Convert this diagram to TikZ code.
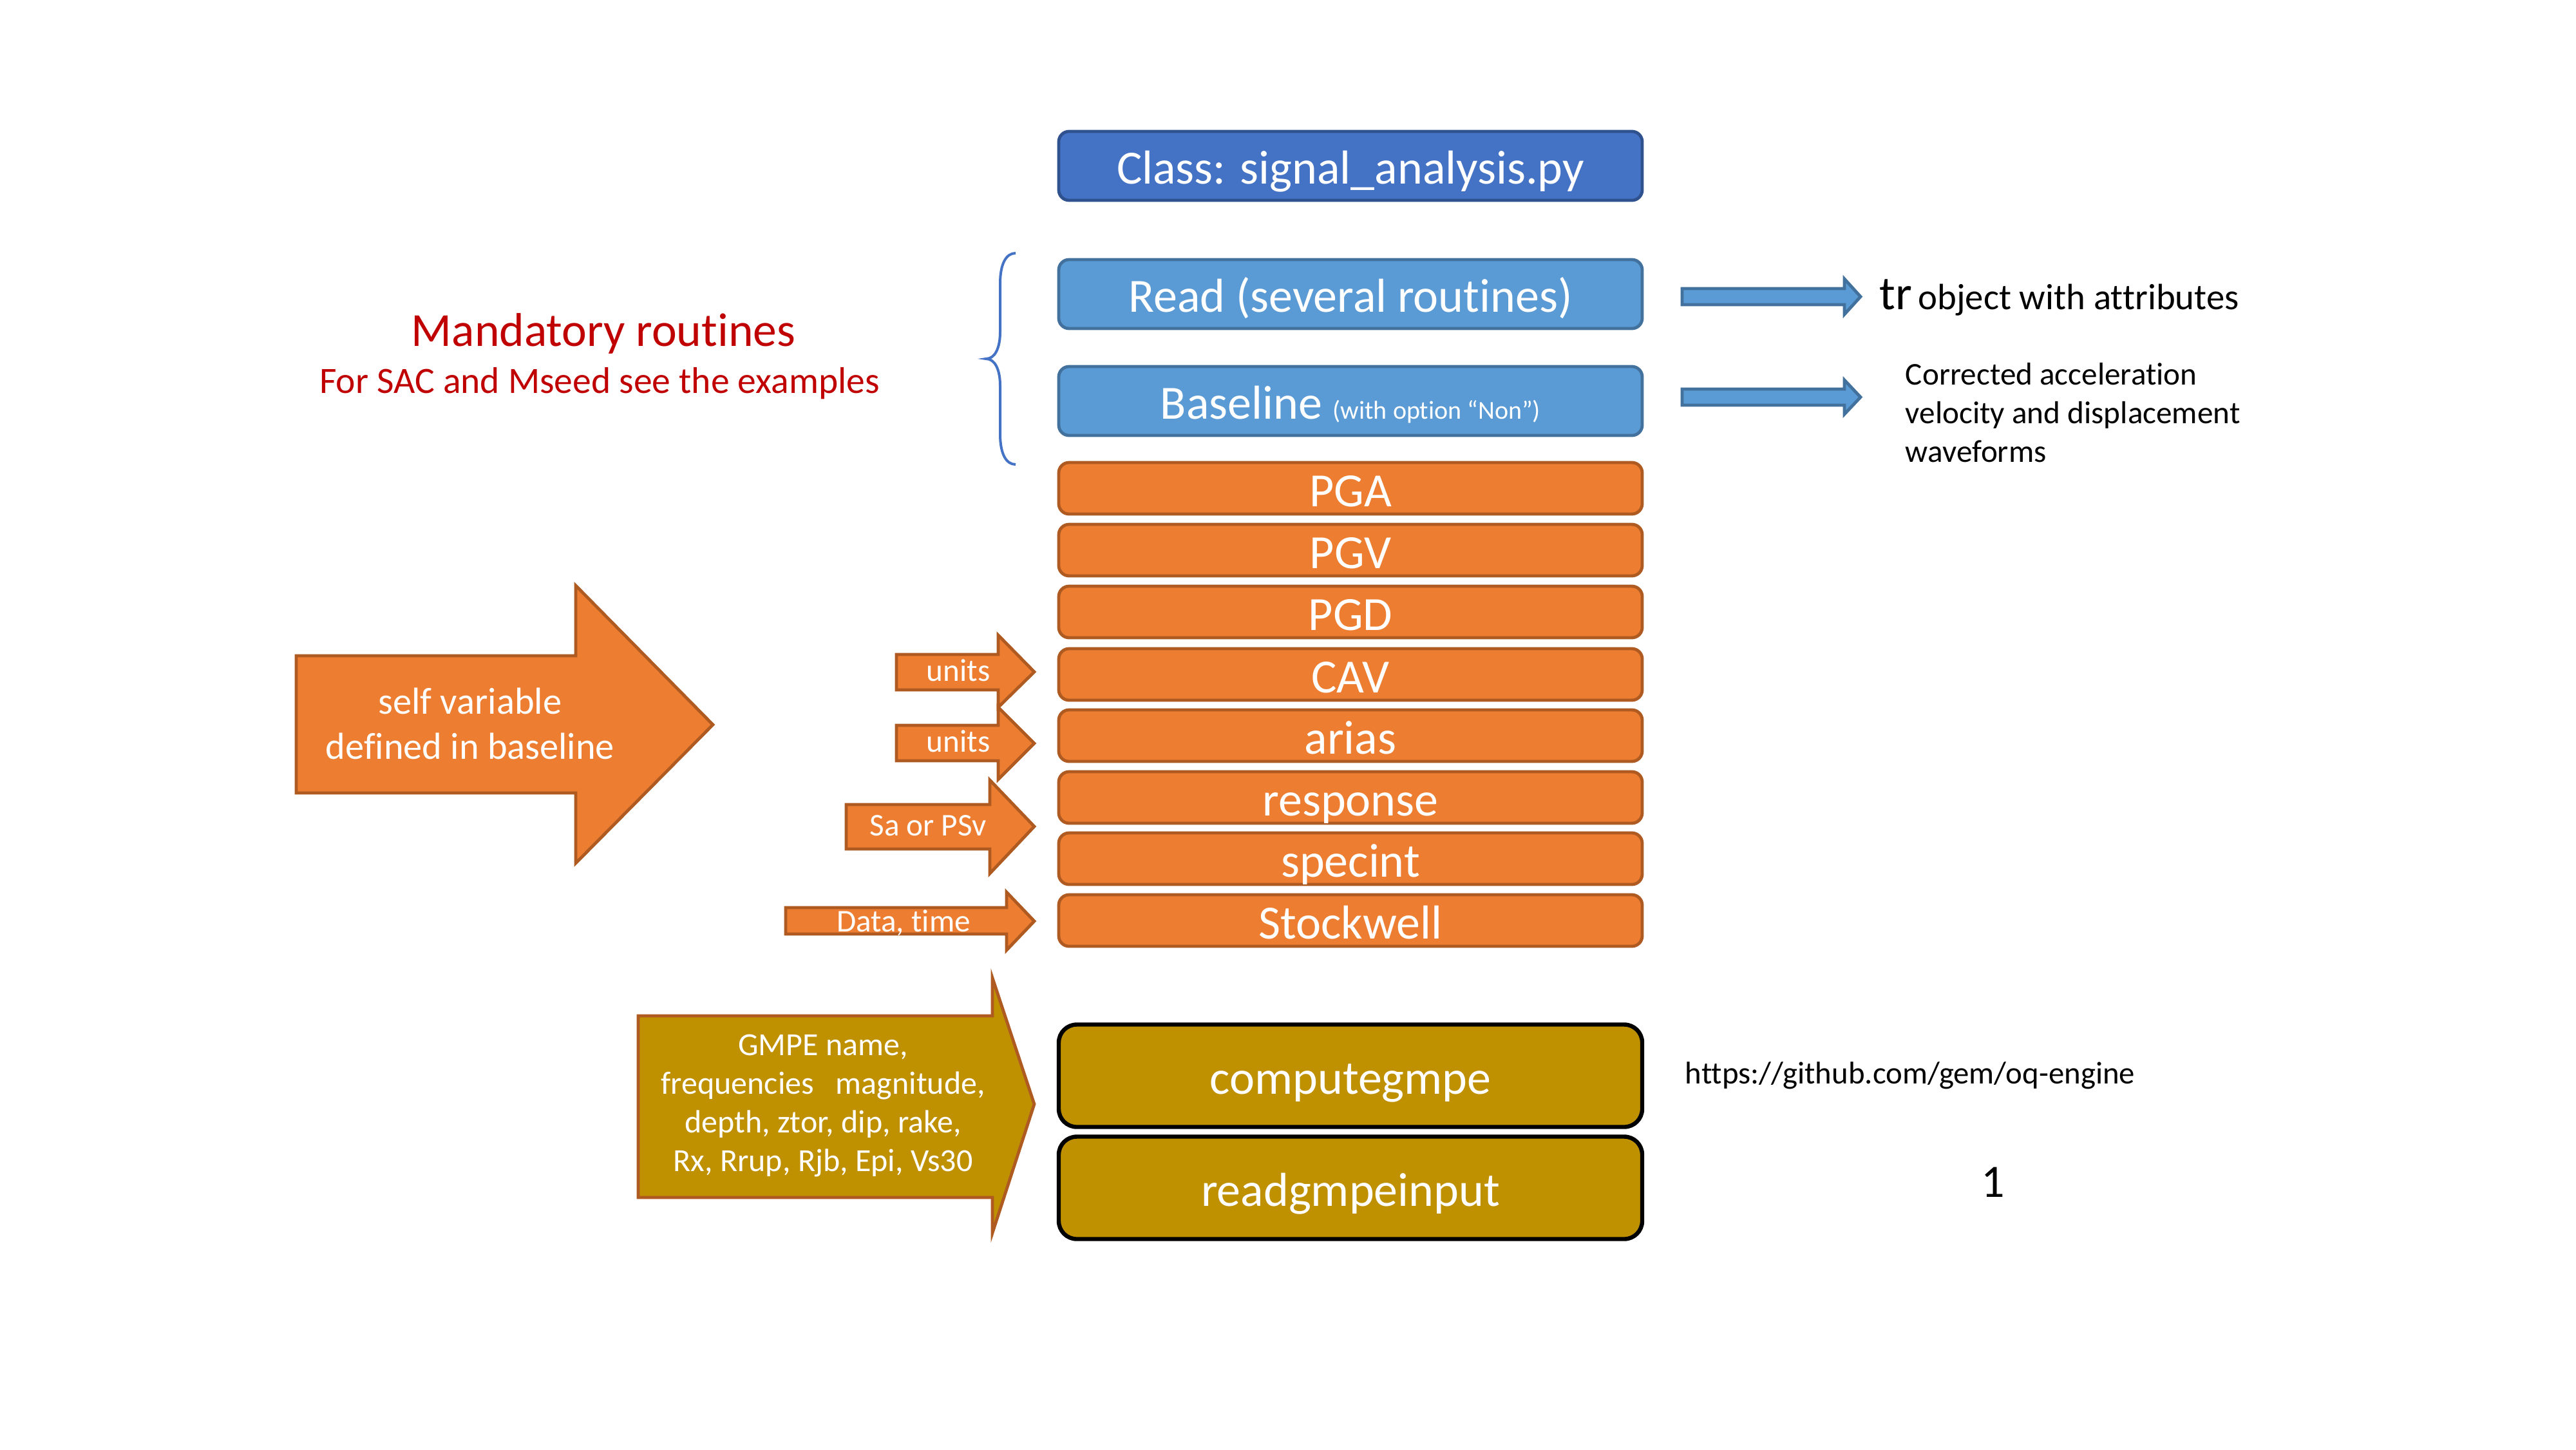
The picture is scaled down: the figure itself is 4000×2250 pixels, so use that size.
\documentclass[tikz,border=0pt]{standalone}
\usepackage{fontspec}
\setmainfont{Carlito}[Ligatures=NoCommon]
\definecolor{titlefill}{HTML}{4472C4}
\definecolor{titledraw}{HTML}{2F528F}
\definecolor{lbfill}{HTML}{5B9BD5}
\definecolor{lbdraw}{HTML}{41719C}
\definecolor{orfill}{HTML}{ED7D31}
\definecolor{ordraw}{HTML}{AE5A21}
\definecolor{goldfill}{HTML}{BF9000}
\definecolor{darkred}{HTML}{C00000}
\begin{document}
\begin{tikzpicture}[x=0.25pt,y=-0.25pt,
  box/.style={draw, rounded corners=4pt, line width=1.2pt, minimum width=226.5pt,
    inner sep=0pt, text=white, font=\fontsize{18.5}{22}\selectfont,
    text height=16.8pt, text depth=2.8pt},
  titlebox/.style={box, fill=titlefill, draw=titledraw, minimum height=26.75pt},
  lbbox/.style={box, fill=lbfill, draw=lbdraw, minimum height=26.75pt},
  orbox/.style={box, fill=orfill, draw=ordraw, minimum height=20pt},
  goldbox/.style={box, fill=goldfill, draw=black, line width=1.6pt, rounded corners=7pt, minimum height=39.75pt},
  orarrow/.style={fill=orfill, draw=ordraw, line width=1.2pt, line join=miter},
  goldarrow/.style={fill=goldfill, draw=ordraw, line width=1.2pt, line join=miter},
  bluearrow/.style={fill=lbfill, draw=lbdraw, line width=1.2pt, line join=miter},
  arrowtext/.style={inner sep=0pt, text=white, anchor=base, font=\fontsize{12.3}{15}\selectfont},
  plain/.style={inner sep=0pt, text=black}
]
\useasboundingbox (0,0) rectangle (4000,2250);

% main column
\node[titlebox] (title) at (2097,257.5) {Class: signal\_analysis.py};
\node[lbbox] (read) at (2097,456.5) {Read (several routines)};
\node[lbbox] (baseline) at (2097,622.5) {Baseline {\fontsize{10}{12}\selectfont (with option “Non”)}};
\node[orbox] (pga) at (2097,758) {PGA};
\node[orbox] (pgv) at (2097,854) {PGV};
\node[orbox] (pgd) at (2097,950) {PGD};
\node[orbox] (cav) at (2097,1047) {CAV};
\node[orbox] (arias) at (2097,1142) {arias};
\node[orbox] (response) at (2097,1238) {response};
\node[orbox] (specint) at (2097,1333) {specint};
\node[orbox] (stockwell) at (2097,1429) {Stockwell};
\node[goldbox] (computegmpe) at (2097,1670) {computegmpe};
\node[goldbox] (readgmpe) at (2097,1844) {readgmpeinput};

% brace
\draw[titlefill, line width=1pt] (1577,393) .. controls (1562,393) and (1553,410) .. (1553,440)
  -- (1553,515) .. controls (1553,540) and (1545,557) .. (1531,557)
  .. controls (1545,557) and (1553,574) .. (1553,599)
  -- (1553,674) .. controls (1553,704) and (1562,721) .. (1577,721);

% mandatory text
\node[inner sep=0pt, text=darkred, anchor=base, font=\fontsize{18.4}{22}\selectfont] (mand) at (937,537) {Mandatory routines};
\node[inner sep=0pt, text=darkred, anchor=base, font=\fontsize{14.4}{17}\selectfont] (mandsub) at (931,610) {For SAC and Mseed see the examples};

% blue arrows
\draw[bluearrow] (2612,448) -- (2864,448) -- (2864,433) -- (2889,460.5) -- (2864,488) -- (2864,473) -- (2612,473) -- cycle;
\draw[bluearrow] (2612,604) -- (2864,604) -- (2864,590) -- (2889,616.5) -- (2864,643) -- (2864,629) -- (2612,629) -- cycle;
\node[plain, anchor=base west] (trtext) at (2918,480) {{\fontsize{18.5}{22}\selectfont tr} {\fontsize{14.2}{17}\selectfont object with attributes}};
\node[plain, anchor=base west, align=left, font=\fontsize{12.3}{15}\selectfont] (corrected) at (2958,717) {Corrected acceleration\\velocity and displacement\\waveforms};

% big orange arrow
\draw[orarrow] (460,1018) -- (894,1018) -- (894,909) -- (1107,1125) -- (894,1340) -- (894,1231) -- (460,1231) -- cycle;
\node[inner sep=0pt, text=white, anchor=base, align=center, font=\fontsize{14.6}{17.5}\selectfont] (selfvar) at (730,1178) {self variable\\defined in baseline};

% small arrows
\draw[orarrow] (1392,1016) -- (1550,1016) -- (1550,986) -- (1606,1043) -- (1550,1098) -- (1550,1071) -- (1392,1071) -- cycle;
\node[arrowtext] (units1) at (1488,1057) {units};
\draw[orarrow] (1392,1126) -- (1550,1126) -- (1550,1098) -- (1606,1154) -- (1550,1210) -- (1550,1181) -- (1392,1181) -- cycle;
\node[arrowtext] (units2) at (1488,1167) {units};
\draw[orarrow] (1314,1249) -- (1537,1249) -- (1537,1211) -- (1606,1283) -- (1537,1356) -- (1537,1318) -- (1314,1318) -- cycle;
\node[arrowtext] (sapsv) at (1441,1297) {Sa or PSv};
\draw[orarrow] (1220,1409) -- (1563,1409) -- (1563,1385) -- (1606,1430) -- (1563,1475) -- (1563,1450) -- (1220,1450) -- cycle;
\node[arrowtext] (datatime) at (1403,1446) {Data, time};

% gmpe arrow
\draw[goldarrow] (991,1577) -- (1541,1577) -- (1541,1518) -- (1606,1714) -- (1541,1914) -- (1541,1859) -- (991,1859) -- cycle;
\node[inner sep=0pt, text=white, anchor=base, align=center, font=\fontsize{12.5}{15}\selectfont] (gmpetext) at (1278,1818) {GMPE name,\\frequencies\ \ \ magnitude,\\depth, ztor, dip, rake,\\Rx, Rrup, Rjb, Epi, Vs30};

% right texts
\node[plain, anchor=base west, font=\fontsize{12.2}{15}\selectfont] (url) at (2616,1682) {https://github.com/gem/oq-engine};
\node[plain, anchor=base, font=\fontsize{18}{22}\selectfont] (pagenum) at (3095,1858) {1};
\end{tikzpicture}
\end{document}
